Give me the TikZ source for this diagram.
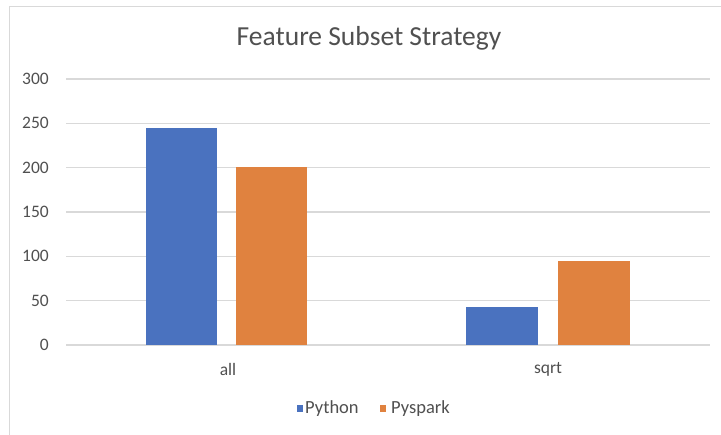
\documentclass[tikz,border=0pt]{standalone}
\usepackage{fontspec}
\setmainfont{Carlito}
\definecolor{gridgray}{HTML}{D9D9D9}
\definecolor{textgray}{HTML}{505050}
\definecolor{pyblue}{HTML}{4A72BF}
\definecolor{sparkorange}{HTML}{E0823F}
\begin{document}
\begin{tikzpicture}[x=1pt,y=-1pt,
  grid line/.style={draw=gridgray,line width=1.2pt},
  tick label/.style={text=textgray,font=\fontsize{17.5}{20}\selectfont,anchor=east,inner sep=0pt},
  cat label/.style={text=textgray,font=\fontsize{17.5}{20}\selectfont,inner sep=0pt},
  legend label/.style={text=textgray,font=\fontsize{18.5}{22}\selectfont,anchor=west,inner sep=0pt}]
  \useasboundingbox (0,0) rectangle (721,435);
  \fill[white] (0,0) rectangle (721,435);
  % chart frame
  \draw[gridgray,line width=1.2pt] (9.5,435) -- (9.5,6.5) -- (721,6.5);
  % title
  \node[text=textgray,font=\fontsize{27.5}{32}\selectfont,inner sep=0pt] (title) at (369,38) {Feature Subset Strategy};
  % horizontal grid and value axis
  \foreach \v in {0,50,...,300}{
    \pgfmathsetmacro{\yy}{345-\v*0.8867}
    \draw[grid line] (66,\yy) -- (710,\yy);
    \node[tick label] (tick\v) at (49,\yy) {\v};
  }
  % bars: x range, top value
  \newcommand{\chartbar}[4]{%
    \pgfmathsetmacro{\ytop}{345-#3*0.8867}
    \fill[#4] (#1,345) rectangle (#2,\ytop);}
  \chartbar{145.5}{217}{245}{pyblue}
  \chartbar{235.5}{307}{201}{sparkorange}
  \chartbar{466}{538}{43}{pyblue}
  \chartbar{558}{630}{95}{sparkorange}
  % category labels
  \node[cat label] (catall) at (228,369) {all};
  \node[cat label] (catsqrt) at (548,369) {sqrt};
  % legend
  \fill[pyblue] (296.5,405.5) rectangle (303,412);
  \node[legend label] (legpython) at (305,409) {Python};
  \fill[sparkorange] (379.5,405.5) rectangle (386,412);
  \node[legend label] (legpyspark) at (391,409) {Pyspark};
\end{tikzpicture}
\end{document}
